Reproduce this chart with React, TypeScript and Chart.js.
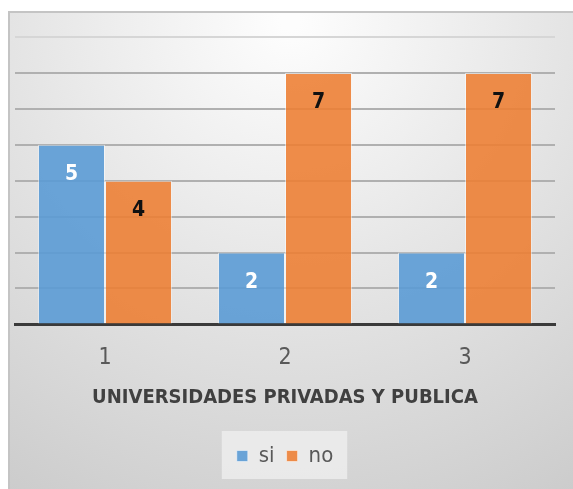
import React, { useEffect, useRef } from "react";
import { Chart, registerables } from "chart.js";

Chart.register(...registerables);

const categories = ["1", "2", "3"];
const siValues = [5, 2, 2];
const noValues = [4, 7, 7];
const seriesNames = ["si", "no"];
const axisTitle = "UNIVERSIDADES PRIVADAS Y PUBLICA";
const yMax = 8;

const FONT = "'Liberation Sans Narrow', 'DejaVu Sans Condensed', 'Liberation Sans', sans-serif";

const bgPlugin = {
  id: "bgBox",
  beforeDraw(chart: any) {
    const { ctx, width, height } = chart;
    ctx.save();
    ctx.fillStyle = "#ffffff";
    ctx.fillRect(0, 0, width, height);
    const x0 = 9, y0 = 12;
    const g = ctx.createRadialGradient(290, 20, 10, 290, 20, 560);
    g.addColorStop(0, "#fdfdfd");
    g.addColorStop(0.45, "#e6e6e6");
    g.addColorStop(1, "#cbcbcb");
    ctx.fillStyle = g;
    ctx.fillRect(x0, y0, width - x0, height - y0);
    ctx.strokeStyle = "#c4c4c4";
    ctx.lineWidth = 2;
    ctx.beginPath();
    ctx.moveTo(x0, height);
    ctx.lineTo(x0, y0);
    ctx.lineTo(width, y0);
    ctx.stroke();
    // legend background
    const lg = chart.legend;
    if (lg && lg.legendHitBoxes && lg.legendHitBoxes.length) {
      const hb = lg.legendHitBoxes;
      const left = hb[0].left - 15;
      const right = hb[hb.length - 1].left + hb[hb.length - 1].width + 14;
      const cy = hb[0].top + hb[0].height / 2;
      ctx.fillStyle = "rgba(240,240,240,0.75)";
      ctx.fillRect(left, cy - 25, right - left, 48);
    }
    ctx.restore();
  },
};

const labelPlugin = {
  id: "valueLabels",
  afterDatasetsDraw(chart: any) {
    const { ctx } = chart;
    ctx.save();
    ctx.font = `bold 21px ${FONT}`;
    ctx.textAlign = "center";
    ctx.textBaseline = "middle";
    chart.data.datasets.forEach((ds: any, di: number) => {
      const meta = chart.getDatasetMeta(di);
      meta.data.forEach((bar: any, i: number) => {
        ctx.fillStyle = di === 0 ? "#ffffff" : "#111111";
        ctx.fillText(String(ds.data[i]), bar.x, bar.y + 30);
      });
    });
    ctx.restore();
  },
};

export default function App() {
  const ref = useRef<HTMLCanvasElement>(null);
  useEffect(() => {
    document.body.style.margin = "0";
    const chart = new Chart(ref.current!, {
      type: "bar",
      data: {
        labels: categories,
        datasets: [
          {
            label: seriesNames[0],
            data: siValues,
            backgroundColor: "rgba(91,155,213,0.9)",
            borderColor: "rgba(255,255,255,0.5)",
            borderWidth: 1,
          },
          {
            label: seriesNames[1],
            data: noValues,
            backgroundColor: "rgba(237,125,49,0.88)",
            borderColor: "rgba(255,255,255,0.5)",
            borderWidth: 1,
          },
        ],
      },
      options: {
        responsive: false,
        animation: false,
        devicePixelRatio: 1,
        layout: { padding: { left: 15, right: 18, top: 37, bottom: 12 } },
        datasets: { bar: { categoryPercentage: 0.745, barPercentage: 1 } },
        scales: {
          x: {
            grid: { display: false, drawTicks: false, tickLength: 0 },
            border: { display: true, color: "#3a3a3a", width: 3 },
            ticks: { color: "#595959", font: { family: FONT, size: 23 }, padding: 20 },
            title: {
              display: true,
              text: axisTitle,
              color: "#404040",
              font: { family: FONT, size: 20, weight: "bold" },
              padding: { top: -6, bottom: 23 },
            },
          },
          y: {
            min: 0,
            max: yMax,
            ticks: { display: false, stepSize: 1 },
            border: { display: false },
            grid: {
              drawTicks: false,
              tickLength: 0,
              lineWidth: 2,
              color: (c: any) => (c.tick && c.tick.value === yMax ? "#d6d6d6" : "#b0b0b0"),
            },
            afterFit(scale: any) {
              scale.width = 0;
            },
          },
        },
        plugins: {
          legend: {
            position: "bottom",
            labels: {
              color: "#595959",
              font: { family: FONT, size: 22 },
              boxWidth: 11,
              boxHeight: 11,
              padding: 12,
            },
          },
          tooltip: { enabled: false },
        },
      },
      plugins: [bgPlugin, labelPlugin],
    });
    return () => chart.destroy();
  }, []);
  return <canvas ref={ref} width={573} height={489} style={{ display: "block", width: 573, height: 489 }} />;
}
